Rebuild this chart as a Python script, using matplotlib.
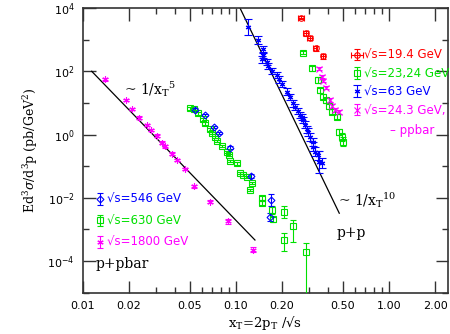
import numpy as np
import matplotlib
matplotlib.use("Agg")
import matplotlib.pyplot as plt
from matplotlib.ticker import FixedLocator, NullFormatter, FixedFormatter

# ---- data ----------------------------------------------------------------
# p+pbar, sqrt(s)=1800 GeV
x1800 = [0.0139, 0.0190, 0.0210, 0.0231, 0.0262, 0.0280, 0.0303, 0.0330,
         0.0345, 0.0380, 0.0410, 0.0464, 0.0530, 0.0680, 0.0890, 0.1285]
y1800 = [55, 12.3, 6.5, 3.4, 2.0, 1.4, 0.93, 0.55, 0.42, 0.25, 0.155, 0.080,
         0.023, 0.0076, 0.0018, 2.3e-4]
e1800 = [0.04] * 12 + [0.05, 0.06, 0.07, 0.09]      # half-width, decades

# p+pbar, sqrt(s)=630 GeV
x630 = [0.0500, 0.0532, 0.0567, 0.0606, 0.0627, 0.0676, 0.0697, 0.0729,
        0.0755, 0.0806, 0.0869, 0.0900, 0.0914, 0.1011, 0.1062, 0.1111,
        0.1180, 0.1267, 0.1235, 0.1472, 0.1480, 0.1711, 0.1745, 0.2060,
        0.2369, 0.2060, 0.2868]
y630 = [6.7, 6.2, 4.65, 3.0, 2.25, 1.45, 1.13, 0.85, 0.62, 0.43, 0.284,
        0.223, 0.147, 0.122, 0.0614, 0.0519, 0.0449, 0.029, 0.0174, 0.0097,
        0.0067, 0.0041, 0.0021, 0.0036, 0.00126, 4.8e-4, 1.97e-4]
e630_lo = [0.04] * 19 + [0.06, 0.06, 0.14, 0.08, 0.21, 0.50, 0.36, 2.5]
e630_hi = [0.04] * 19 + [0.06, 0.06, 0.14, 0.08, 0.17, 0.21, 0.19, 0.29]

# p+pbar, sqrt(s)=546 GeV
x546 = [0.0540, 0.0627, 0.0718, 0.0778, 0.0918, 0.1253, 0.1694, 0.1680]
y546 = [6.1, 4.1, 1.75, 1.13, 0.385, 0.050, 0.0084, 0.00243]
e546 = [0.04, 0.04, 0.04, 0.04, 0.05, 0.06, 0.19, 0.12]

# p+p, sqrt(s)=63 GeV
x63 = [0.1203, 0.1399, 0.1495, 0.1508, 0.1480, 0.1588, 0.1626, 0.1712,
       0.1845, 0.1919, 0.1990, 0.2145, 0.2254, 0.2369, 0.2430, 0.2554,
       0.2620, 0.2688, 0.2754, 0.2825, 0.2924, 0.2968, 0.3045, 0.3200,
       0.3180, 0.3283, 0.3451, 0.3470, 0.3631]
y63 = [2560, 970, 493, 326, 238, 200, 149, 104, 76, 55, 39, 22.8, 15.3,
       9.6, 7.4, 5.5, 4.1, 3.6, 2.86, 2.06, 1.45, 1.19, 0.85, 0.57, 0.41,
       0.284, 0.223, 0.137, 0.122]
e63 = [0.25, 0.12, 0.10, 0.10, 0.10, 0.10, 0.10, 0.10, 0.10, 0.10, 0.10,
       0.10, 0.10, 0.10, 0.10, 0.10, 0.10, 0.10, 0.10, 0.12, 0.12, 0.12,
       0.12, 0.12, 0.14, 0.14, 0.14, 0.35, 0.16]

# p+p, sqrt(s)=19.4 GeV
x19 = [0.266, 0.2846, 0.3032, 0.3308, 0.3703]
y19 = [4930, 1585, 1132, 531, 299]
e19 = [0.05, 0.07, 0.07, 0.08, 0.08]
ex19 = [0.012, 0.010, 0.010, 0.010, 0.012]

# p+p, sqrt(s)=23,24 GeV
x23 = [0.2754, 0.3125, 0.3451, 0.3540, 0.3721, 0.3873, 0.4072, 0.4222,
       0.4550, 0.4732, 0.4907, 0.4980]
y23 = [385, 124, 53, 25.4, 15.6, 12.3, 7.9, 5.2, 3.6, 1.22, 0.85, 0.59]
e23 = [0.05, 0.08, 0.08, 0.08, 0.08, 0.08, 0.08, 0.08, 0.08, 0.10, 0.12, 0.14]

# p+pbar, sqrt(s)=24.3 GeV
x24 = [0.3477, 0.3632, 0.3721, 0.3874, 0.4115, 0.4222, 0.4436, 0.4712]
y24 = [122, 68, 50.8, 30.5, 12.3, 8.2, 5.9, 5.2]
e24 = [0.06, 0.06, 0.06, 0.06, 0.06, 0.06, 0.06, 0.06]

# power-law guide lines: (x_start, y_start, x_end, power)
line5 = (0.0114, 100.0, 0.133, 5)
line10 = (0.1062, 1.0e4, 0.473, 10)

xticks = [0.01, 0.02, 0.05, 0.10, 0.20, 0.50, 1.00, 2.00]
xticklabels = ["0.01", "0.02", "0.05", "0.10", "0.20", "0.50", "1.00", "2.00"]
xminor = [0.03, 0.04, 0.06, 0.07, 0.08, 0.09, 0.3, 0.4, 0.6, 0.7, 0.8, 0.9]
yticks = [1e-4, 1e-2, 1e0, 1e2, 1e4]
yticklabels = [r"$\mathsf{10^{-4}}$", r"$\mathsf{10^{-2}}$", r"$\mathsf{10^{0}}$",
               r"$\mathsf{10^{2}}$", r"$\mathsf{10^{4}}$"]
yminor = [1e-5, 1e-3, 1e-1, 1e1, 1e3]

RED, GREEN, BLUE, MAG = "#ff0000", "#00e000", "#0000ff", "#ff00ff"
SANS = "DejaVu Sans"
SERIF = "DejaVu Serif"
plt.rcParams["mathtext.fontset"] = "dejavuserif"


def yerr_dec(y, lo, hi=None):
    y = np.asarray(y, float)
    lo = np.asarray(lo, float)
    hi = lo if hi is None else np.asarray(hi, float)
    return [y * (1 - 10 ** -lo), y * (10 ** hi - 1)]


fig = plt.figure(figsize=(4.5, 3.34), dpi=100)
ax = fig.add_axes([0.1844, 0.1237, 0.8112, 0.8523])
ax.set_xscale("log")
ax.set_yscale("log")
ax.set_xlim(0.01, 2.43)
ax.set_ylim(1e-5, 1e4)

# guide lines
for x0, y0, x1, p in (line5, line10):
    xs = np.array([x0, x1])
    ax.plot(xs, y0 * (xs / x0) ** -p, color="black", lw=0.9, zorder=2)

kw = dict(ls="none", elinewidth=0.8, capthick=0.8, mew=0.8, zorder=3)
h1800 = ax.errorbar(x1800, y1800, yerr=yerr_dec(y1800, e1800), color=MAG,
                    marker=(6, 2, 0), ms=4.5, capsize=2.5, **kw)
h630 = ax.errorbar(x630, y630, yerr=yerr_dec(y630, e630_lo, e630_hi),
                   color=GREEN, marker="s", ms=4.5, mfc="none", capsize=2.5,
                   **kw)
h546 = ax.errorbar(x546, y546, yerr=yerr_dec(y546, e546), color=BLUE,
                   marker="D", ms=3.5, mfc="none", capsize=2.5, **kw)
h63 = ax.errorbar(x63, y63, yerr=yerr_dec(y63, e63), color=BLUE,
                  marker=(6, 2, 0), ms=4, capsize=3, **kw)
h19 = ax.errorbar(x19, y19, yerr=yerr_dec(y19, e19),
                  xerr=[np.asarray(ex19), np.asarray(ex19)], color=RED,
                  marker="o", ms=4, mfc="none", capsize=2.5, **kw)
h23 = ax.errorbar(x23, y23, yerr=yerr_dec(y23, e23), color=GREEN, marker="s",
                  ms=4.5, mfc="none", capsize=2.5, **kw)
h24 = ax.errorbar(x24, y24, yerr=yerr_dec(y24, e24), color=MAG, marker="x",
                  ms=4, capsize=2.5, **kw)

# ticks
ax.xaxis.set_major_locator(FixedLocator(xticks))
ax.xaxis.set_major_formatter(FixedFormatter(xticklabels))
ax.xaxis.set_minor_locator(FixedLocator(xminor))
ax.xaxis.set_minor_formatter(NullFormatter())
ax.yaxis.set_major_locator(FixedLocator(yticks))
ax.yaxis.set_major_formatter(FixedFormatter(yticklabels))
ax.yaxis.set_minor_locator(FixedLocator(yminor))
ax.yaxis.set_minor_formatter(NullFormatter())
ax.tick_params(which="both", direction="in", top=True, right=True,
               color="#333333", width=1.0)
ax.tick_params(which="major", length=9, labelsize=8, pad=6)
ax.tick_params(which="minor", length=4.5)
for lab in ax.get_xticklabels() + ax.get_yticklabels():
    lab.set_family(SANS)
for s in ax.spines.values():
    s.set_linewidth(1.2)
    s.set_color("#333333")

ax.set_ylabel(r"Ed$^3\sigma$/d$^3$p (pb/GeV$^2$)", family=SERIF, fontsize=9,
              labelpad=5)
ax.set_xlabel(r"x$_\mathrm{T}$=2p$_\mathrm{T}$ /√s", family=SERIF,
              fontsize=9.5, labelpad=2)

# legends
leg_kw = dict(frameon=False, handlelength=0.7, handletextpad=0.25,
              borderpad=0, borderaxespad=0, prop={"family": SANS, "size": 8.5},
              labelcolor="linecolor")
leg1 = ax.legend([h19, h23, h63, h24],
                 ["√s=19.4 GeV", "√s=23,24 GeV", "√s=63 GeV", "√s=24.3 GeV,"],
                 loc="upper left", bbox_to_anchor=(0.74, 0.857),
                 labelspacing=0.45, **leg_kw)
ax.add_artist(leg1)
ax.legend([h546, h630, h1800],
          ["√s=546 GeV", "√s=630 GeV", "√s=1800 GeV"],
          loc="upper left", bbox_to_anchor=(0.035, 0.35),
          labelspacing=0.72, **leg_kw)

ax.text(1.016, 1.38, "– ppbar", color=MAG, family=SANS, fontsize=8.5,
        va="center")
ax.text(0.0185, 27.4, r"~ 1/x$_\mathrm{T}$$^5$", family=SERIF, fontsize=10,
        va="center")
ax.text(0.464, 0.0084, r"~ 1/x$_\mathrm{T}$$^{10}$", family=SERIF,
        fontsize=10, va="center")
ax.text(0.456, 7.8e-4, "p+p", family=SERIF, fontsize=10, va="center")
ax.text(0.0121, 8.3e-5, "p+pbar", family=SERIF, fontsize=10, va="center")

fig.savefig("out.png", dpi=100)
